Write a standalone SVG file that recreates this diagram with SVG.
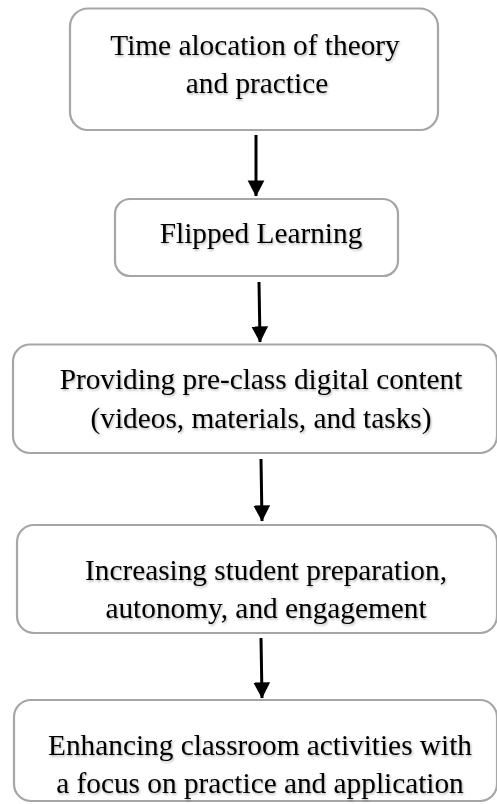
<svg xmlns="http://www.w3.org/2000/svg" width="497" height="804" viewBox="0 0 497 804">
<style>
.box{fill:#ffffff;stroke:#a6a6a6;stroke-width:2.2}
.lbl{font-family:"Liberation Serif","Times New Roman",serif;font-size:29.3px;fill:#000;text-anchor:middle}
.conn{stroke:#000;stroke-width:3;fill:none}
</style>
<defs>
<filter id="sh" x="-5%" y="-20%" width="110%" height="140%">
<feDropShadow dx="1" dy="1.5" stdDeviation="1" flood-color="#000" flood-opacity="0.3"/>
</filter>
<marker id="ah" markerWidth="7" markerHeight="7" refX="5.2" refY="3" orient="auto" markerUnits="strokeWidth">
<path d="M0,0.2 L5.4,3 L0,5.8 Z" fill="#000"/>
</marker>
</defs>
<rect width="497" height="804" fill="#ffffff"/>
<g id="connectors">
<line class="conn" x1="256" y1="135" x2="256" y2="196" marker-end="url(#ah)"/>
<line class="conn" x1="259" y1="282" x2="260" y2="342" marker-end="url(#ah)"/>
<line class="conn" x1="261" y1="459" x2="262" y2="521" marker-end="url(#ah)"/>
<line class="conn" x1="261" y1="638" x2="262" y2="698" marker-end="url(#ah)"/>
</g>
<g id="node1">
<rect class="box" x="70" y="8.5" width="368" height="121.5" rx="18"/>
<g filter="url(#sh)"><text class="lbl" x="255" y="55">Time alocation of theory</text>
<text class="lbl" x="257" y="93">and practice</text></g>
</g>
<g id="node2">
<rect class="box" x="115" y="199" width="283" height="77" rx="15"/>
<g filter="url(#sh)"><text class="lbl" x="261" y="243">Flipped Learning</text></g>
</g>
<g id="node3">
<rect class="box" x="13" y="344.5" width="484" height="108.5" rx="17"/>
<g filter="url(#sh)"><text class="lbl" x="261" y="389">Providing pre-class digital content</text>
<text class="lbl" x="261" y="428">(videos, materials, and tasks)</text></g>
</g>
<g id="node4">
<rect class="box" x="17" y="525" width="480" height="108" rx="17"/>
<g filter="url(#sh)"><text class="lbl" x="266" y="580">Increasing student preparation,</text>
<text class="lbl" x="266" y="618">autonomy, and engagement</text></g>
</g>
<g id="node5">
<rect class="box" x="14" y="700" width="483" height="101" rx="17"/>
<g filter="url(#sh)"><text class="lbl" x="260" y="755">Enhancing classroom activities with</text>
<text class="lbl" x="260" y="793">a focus on practice and application</text></g>
</g>
</svg>
